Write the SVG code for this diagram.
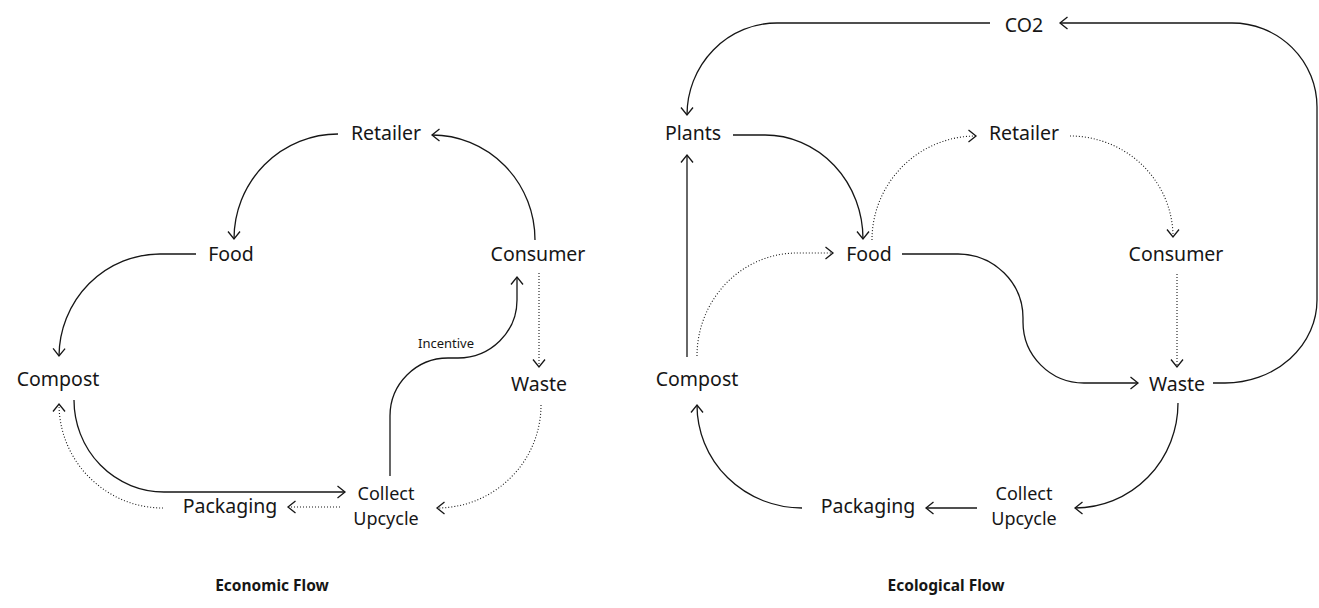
<svg xmlns="http://www.w3.org/2000/svg" width="1319" height="608" viewBox="0 0 1319 608">
  <style>
    .bg { fill: #ffffff; }
    .node text { font-family: "Noto Sans", "Liberation Sans", sans-serif; font-size: 19.5px; fill: #161616; text-anchor: middle; }
    .node text.two-line { font-size: 18px; }
    .small { font-family: "Noto Sans", "Liberation Sans", sans-serif; font-size: 13px; fill: #161616; text-anchor: middle; }
    .title { font-family: "Noto Sans", "Liberation Sans", sans-serif; font-size: 15.5px; font-weight: bold; fill: #161616; text-anchor: middle; }
    .flow { fill: none; stroke: #161616; stroke-width: 1.3; marker-end: url(#arrow); }
    .dot { stroke-dasharray: 1 2; stroke-width: 1.1; }
  </style>
  <defs>
    <marker id="arrow" markerUnits="userSpaceOnUse" markerWidth="16" markerHeight="16" viewBox="-10 -8 12 16" refX="0" refY="0" orient="auto">
      <path d="M-7.5,-6 L0,0 L-7.5,6" fill="none" stroke="#161616" stroke-width="1.3"/>
    </marker>
  </defs>
  <rect class="bg" x="0" y="0" width="1319" height="608"/>

  <!-- Economic flow: connectors -->
  <g id="economic-connectors">
    <path class="flow" d="M338,134 A104,105 0 0 0 234,239"/>
    <path class="flow" d="M196,254 H160 A101,103 0 0 0 59,356"/>
    <path class="flow" d="M535,240 A103,105 0 0 0 432,135"/>
    <path class="flow dot" d="M539,273 V367"/>
    <path class="flow dot" d="M541,405 A104,103 0 0 1 437,508"/>
    <path class="flow" d="M390,476 V416 A58,58 0 0 1 448,358 H458 A59,58 0 0 0 517,300 V277"/>
    <path class="flow" d="M74,400 A90,92 0 0 0 164,492 H345"/>
    <path class="flow dot" d="M340,507 H288"/>
    <path class="flow dot" d="M163,508 A104,104 0 0 1 59,404"/>
  </g>

  <!-- Economic flow: nodes -->
  <g id="eco-retailer" class="node"><text x="386" y="140">Retailer</text></g>
  <g id="eco-food" class="node"><text x="231" y="261">Food</text></g>
  <g id="eco-consumer" class="node"><text x="538" y="261">Consumer</text></g>
  <g id="eco-compost" class="node"><text x="58" y="386">Compost</text></g>
  <g id="eco-waste" class="node"><text x="539" y="391">Waste</text></g>
  <g id="eco-packaging" class="node"><text x="230" y="513">Packaging</text></g>
  <g id="eco-collect" class="node"><text class="two-line" x="386" y="500">Collect</text><text class="two-line" x="386" y="524.8">Upcycle</text></g>
  <g id="eco-incentive-label"><text class="small" x="446" y="348">Incentive</text></g>
  <g id="eco-title"><text class="title" x="272" y="591">Economic Flow</text></g>

  <!-- Ecological flow: connectors -->
  <g id="ecological-connectors">
    <path class="flow" d="M990,23 H777 A90,92 0 0 0 687,115"/>
    <path class="flow" d="M1213,383 H1225 A92,83 0 0 0 1317,300 V107 A85,84 0 0 0 1232,23 H1060"/>
    <path class="flow" d="M733,135 H765 A98,104 0 0 1 863,239"/>
    <path class="flow dot" d="M872,240 A104,104 0 0 1 976,136"/>
    <path class="flow dot" d="M1070,136 A103,101 0 0 1 1173,237"/>
    <path class="flow dot" d="M1177,274 V367"/>
    <path class="flow" d="M902,254 H958 A65,64 0 0 1 1023,318 V322 A61,61 0 0 0 1084,383 H1138"/>
    <path class="flow" d="M687,357 V155"/>
    <path class="flow dot" d="M697,356 A100,103 0 0 1 797,253 H833"/>
    <path class="flow" d="M1178,403 A103,105 0 0 1 1075,508"/>
    <path class="flow" d="M977,508 H926"/>
    <path class="flow" d="M802,508 A105,103 0 0 1 697,405"/>
  </g>

  <!-- Ecological flow: nodes -->
  <g id="ecl-co2" class="node"><text x="1024" y="32">CO2</text></g>
  <g id="ecl-plants" class="node"><text x="693" y="140">Plants</text></g>
  <g id="ecl-retailer" class="node"><text x="1024" y="140">Retailer</text></g>
  <g id="ecl-food" class="node"><text x="869" y="261">Food</text></g>
  <g id="ecl-consumer" class="node"><text x="1176" y="261">Consumer</text></g>
  <g id="ecl-compost" class="node"><text x="697" y="386">Compost</text></g>
  <g id="ecl-waste" class="node"><text x="1177" y="391">Waste</text></g>
  <g id="ecl-packaging" class="node"><text x="868" y="513">Packaging</text></g>
  <g id="ecl-collect" class="node"><text class="two-line" x="1024" y="500">Collect</text><text class="two-line" x="1024" y="524.8">Upcycle</text></g>
  <g id="ecl-title"><text class="title" x="946" y="591">Ecological Flow</text></g>
</svg>
